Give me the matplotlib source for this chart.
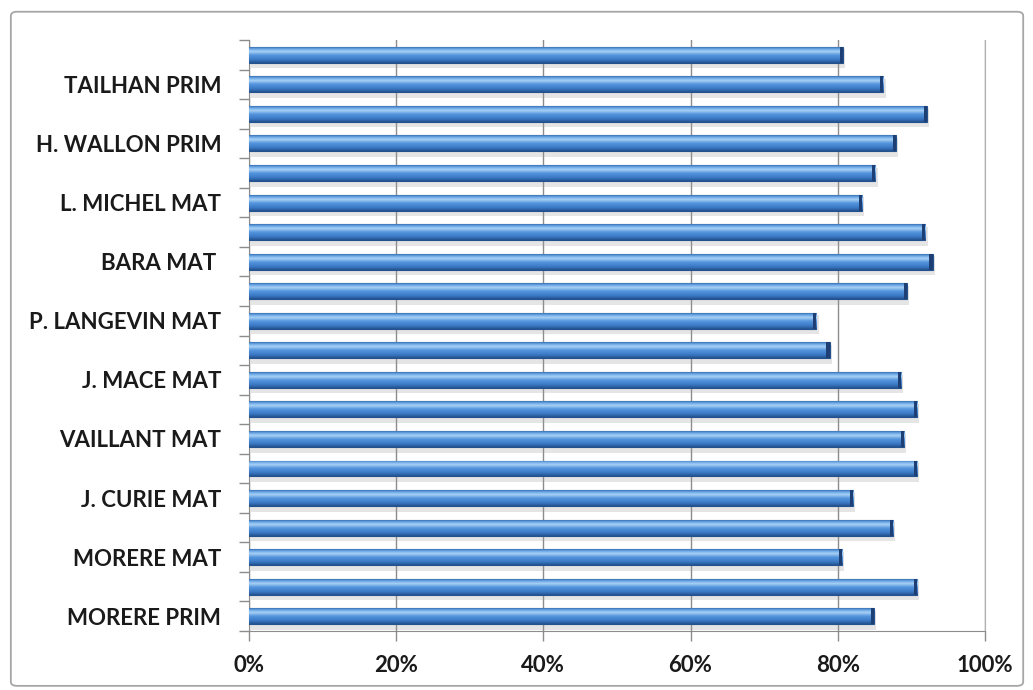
import numpy as np
import matplotlib
matplotlib.use("Agg")
import matplotlib.pyplot as plt
from matplotlib.colors import LinearSegmentedColormap
from matplotlib.patches import FancyBboxPatch
from matplotlib.ticker import PercentFormatter

# bottom to top
labels = ["MORERE PRIM", "", "MORERE MAT", "", "J. CURIE MAT", "",
          "VAILLANT MAT", "", "J. MACE MAT", "", "P. LANGEVIN MAT", "",
          "BARA MAT ", "", "L. MICHEL MAT", "", "H. WALLON PRIM", "",
          "TAILHAN PRIM", ""]
values = [84.9, 90.8, 80.6, 87.5, 82.1, 90.8, 89.0, 90.8, 88.6, 78.9,
          77.1, 89.4, 92.9, 91.9, 83.3, 85.1, 87.9, 92.1, 86.2, 80.7]

plt.rcParams['font.family'] = ['Lato', 'DejaVu Sans']

fig = plt.figure(figsize=(10.33, 6.9), dpi=100)
fig.patches.append(FancyBboxPatch((0.0105, 0.006), 0.98, 0.977,
                                  boxstyle="round,pad=0,rounding_size=0.006",
                                  transform=fig.transFigure, fill=False,
                                  edgecolor="#a6a6a6", linewidth=1.3))
ax = fig.add_axes([0.241, 0.0855, 0.7125, 0.8565])

y = np.arange(len(values))
h = 0.54

# soft shadow
ax.barh(y - 0.14, values, height=h + 0.1, left=0.3, color="#9a9a9a",
        alpha=0.25, linewidth=0, zorder=2)
bars = ax.barh(y, values, height=h, color="#4a8ad6", edgecolor="#24528f",
               linewidth=0.8, zorder=3)

cmap = LinearSegmentedColormap.from_list("cyl", [
    (0.0, "#24528f"), (0.2, "#3a78c4"), (0.5, "#5596de"),
    (0.72, "#a8d0f4"), (0.86, "#76b0ea"), (1.0, "#3a72b8")])
grad = np.linspace(0, 1, 64).reshape(-1, 1)
for b in bars:
    x0, y0 = b.get_x(), b.get_y()
    w, hh = b.get_width(), b.get_height()
    im = ax.imshow(grad, cmap=cmap, aspect="auto", origin="lower",
                   extent=[x0, x0 + w, y0, y0 + hh], zorder=3.5)
    im.set_clip_path(b)
    # dark end cap
    ax.barh(y0 + hh / 2, 0.45, left=x0 + w - 0.45, height=hh,
            color="#1d3f73", linewidth=0, zorder=4)

ax.set_xlim(0, 100)
ax.set_ylim(-0.5, len(values) - 0.5)
ax.xaxis.set_major_formatter(PercentFormatter(decimals=0))
ax.set_xticks([0, 20, 40, 60, 80, 100])
ax.set_yticks(y)
ax.set_yticklabels(labels)
ax.set_yticks(np.arange(-0.5, len(values)), minor=True)
ax.tick_params(axis="y", which="major", length=0, pad=20, labelsize=16,
               labelcolor="#1a1a1a")
ax.tick_params(axis="y", which="minor", length=7, color="#8c8c8c", width=1)
ax.tick_params(axis="x", length=7, color="#8c8c8c", width=1, labelsize=16,
               labelcolor="#1a1a1a", pad=10)
for t in ax.get_xticklabels() + ax.get_yticklabels():
    t.set_fontweight("bold")

ax.grid(axis="x", color="#8c8c8c", linewidth=1, zorder=0)
ax.set_axisbelow(True)
ax.spines["top"].set_visible(False)
ax.spines["right"].set_color("#b0b0b0")
ax.spines["left"].set_color("#8c8c8c")
ax.spines["bottom"].set_color("#8c8c8c")

fig.savefig("out.png", dpi=100)
